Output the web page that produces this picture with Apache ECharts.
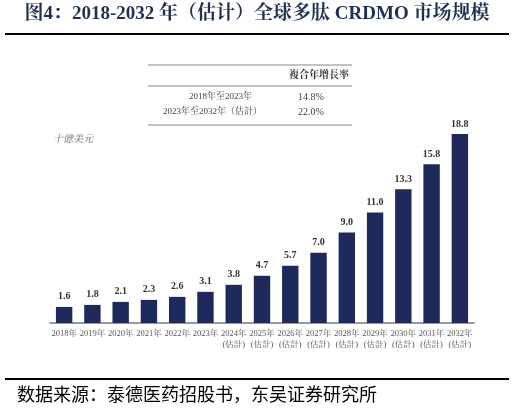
<!DOCTYPE html>
<html><head><meta charset="utf-8">
<script src="https://cdn.jsdelivr.net/npm/echarts@6/dist/echarts.min.js"></script>
<style>html,body{margin:0;padding:0;background:#fff}#c{width:514px;height:413px}</style>
</head><body><div id="c"></div>
<script>
const categories = ['2018年','2019年','2020年','2021年','2022年','2023年','2024年\n(估計)','2025年\n(估計)','2026年\n(估計)','2027年\n(估計)','2028年\n(估計)','2029年\n(估計)','2030年\n(估計)','2031年\n(估計)','2032年\n(估計)'];
const values = [1.6,1.8,2.1,2.3,2.6,3.1,3.8,4.7,5.7,7.0,9.0,11.0,13.3,15.8,18.8];
const tableRows = [['2018年至2023年','14.8%'],['2023年至2032年（估計）','22.0%']];
const serif = '"Liberation Serif","Noto Serif CJK SC","Noto Sans CJK SC",serif';
const chart = echarts.init(document.getElementById('c'));
chart.setOption({
  animation:false,
  grid:{left:50,right:40,top:122,bottom:90},
  xAxis:{type:'category',data:categories,axisTick:{show:false},
    axisLine:{lineStyle:{color:'#999',width:2}},
    axisLabel:{interval:0,fontSize:8.5,color:'#555',fontFamily:serif,lineHeight:11,margin:5}},
  yAxis:{type:'value',min:0,max:20,show:false,splitLine:{show:false}},
  series:[{type:'bar',data:values,barCategoryGap:'42%',itemStyle:{color:'#1f2a5c'},
    label:{show:true,position:'top',fontSize:10,fontWeight:'bold',color:'#333',fontFamily:serif,distance:5,formatter:p=>p.value.toFixed(1)}}],
  graphic:[
    {type:'text',left:'center',top:5,style:{text:'图4：2018-2032 年（估计）全球多肽 CRDMO 市场规模',font:'bold 19px '+serif,fill:'#1f3050'}},
    {type:'rect',shape:{x:5,y:33,width:504,height:2},style:{fill:'#000'}},
    {type:'rect',shape:{x:5,y:378,width:504,height:2},style:{fill:'#000'}},
    {type:'text',left:17,top:385,style:{text:'数据来源：泰德医药招股书，东吴证券研究所',font:'18px "Noto Sans CJK SC",serif',fill:'#000'}},
    {type:'line',shape:{x1:148,y1:65,x2:352,y2:65},style:{stroke:'#888',lineWidth:1.2}},
    {type:'line',shape:{x1:148,y1:86,x2:352,y2:86},style:{stroke:'#888',lineWidth:1.2}},
    {type:'line',shape:{x1:148,y1:125,x2:352,y2:125},style:{stroke:'#888',lineWidth:1.2}},
    {type:'text',x:289,y:70,style:{text:'複合年增長率',font:'bold 10px '+serif,fill:'#333'}},
    {type:'text',x:252,y:92,style:{text:tableRows[0][0],font:'9px '+serif,fill:'#444',align:'right'}},
    {type:'text',x:298,y:92,style:{text:tableRows[0][1],font:'10px '+serif,fill:'#444'}},
    {type:'text',x:262,y:107,style:{text:tableRows[1][0],font:'9px '+serif,fill:'#444',align:'right'}},
    {type:'text',x:298,y:107,style:{text:tableRows[1][1],font:'10px '+serif,fill:'#444'}},
    {type:'text',x:53,y:134,style:{text:'十億美元',font:'italic 10px '+serif,fill:'#666'}}
  ]
});
</script></body></html>
